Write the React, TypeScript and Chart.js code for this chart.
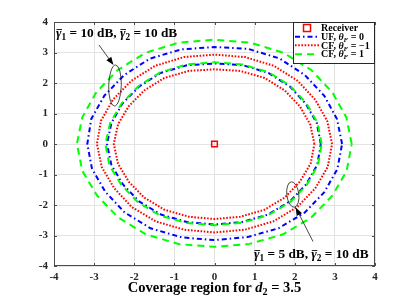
import React, { useEffect, useRef } from "react";
import { Chart, registerables } from "chart.js";

Chart.register(...registerables);

// ---- data ----
const ANGLES_DEG = [0, 15, 30, 45, 60, 75, 90, 105, 120, 135, 150, 165, 180, 195, 210, 225, 240, 255, 270, 285, 300, 315, 330, 345];
// boundary radius at each angle (gamma1 = 10 dB, gamma2 = 10 dB)
const GREEN_OUTER_R = [3.42, 3.40, 3.39, 3.42, 3.45, 3.44, 3.42, 3.44, 3.45, 3.42, 3.40, 3.41, 3.43, 3.41, 3.38, 3.40, 3.42, 3.40, 3.37, 3.39, 3.42, 3.41, 3.39, 3.41];
const BLUE_OUTER_R = [3.18, 3.16, 3.16, 3.19, 3.24, 3.23, 3.18, 3.21, 3.23, 3.19, 3.17, 3.18, 3.17, 3.16, 3.14, 3.17, 3.19, 3.17, 3.15, 3.16, 3.19, 3.18, 3.16, 3.17];
const RED_OUTER_R = [2.93, 2.91, 2.90, 2.93, 2.96, 2.95, 2.93, 2.95, 2.96, 2.93, 2.92, 2.93, 2.93, 2.91, 2.89, 2.92, 2.93, 2.91, 2.90, 2.91, 2.93, 2.92, 2.90, 2.92];
// boundary radius at each angle (gamma1 = 5 dB, gamma2 = 10 dB)
const GREEN_INNER_R = [2.67, 2.66, 2.65, 2.68, 2.71, 2.70, 2.68, 2.70, 2.71, 2.68, 2.67, 2.69, 2.72, 2.71, 2.68, 2.70, 2.71, 2.68, 2.66, 2.67, 2.69, 2.68, 2.66, 2.67];
const BLUE_INNER_R = [2.65, 2.64, 2.63, 2.66, 2.69, 2.68, 2.64, 2.67, 2.69, 2.66, 2.65, 2.66, 2.68, 2.66, 2.64, 2.66, 2.67, 2.65, 2.64, 2.65, 2.67, 2.66, 2.64, 2.65];
const RED_INNER_R = [2.49, 2.47, 2.46, 2.48, 2.50, 2.48, 2.45, 2.48, 2.50, 2.48, 2.47, 2.49, 2.51, 2.49, 2.47, 2.48, 2.49, 2.47, 2.46, 2.47, 2.49, 2.48, 2.46, 2.48];
const RECEIVER = [{ x: 0, y: 0 }];
const AXIS_TICKS = [-4, -3, -2, -1, 0, 1, 2, 3, 4];

const FONT = '"Liberation Serif", "DejaVu Serif", serif';
const BLUE = "#0000ff";
const RED = "#ff0000";
const GREEN = "#00ff00";
const DASH_BLUE = [5, 3, 1.5, 3];
const DASH_RED = [1.6, 1.6];
const DASH_GREEN = [7, 5];

function polar(radii: number[]) {
  const pts = radii.map((r, i) => {
    const a = (ANGLES_DEG[i] * Math.PI) / 180;
    return { x: r * Math.cos(a), y: r * Math.sin(a) };
  });
  pts.push({ ...pts[0] });
  return pts;
}

type Seg = { t: string; it?: boolean; sub?: boolean; bar?: boolean };

function drawRich(ctx: CanvasRenderingContext2D, segs: Seg[], x: number, y: number, size: number, align: "left" | "center") {
  const fontFor = (s: Seg) => `${s.it ? "italic " : ""}bold ${s.sub ? size * 0.7 : size}px ${FONT}`;
  const widths = segs.map((s) => {
    ctx.font = fontFor(s);
    return ctx.measureText(s.t).width;
  });
  const total = widths.reduce((a, b) => a + b, 0);
  let cx = align === "center" ? x - total / 2 : x;
  ctx.textBaseline = "alphabetic";
  ctx.textAlign = "left";
  const base = y + size * 0.32;
  segs.forEach((s, i) => {
    ctx.font = fontFor(s);
    ctx.fillText(s.t, cx, s.sub ? base + size * 0.2 : base);
    if (s.bar) {
      ctx.save();
      ctx.lineWidth = 0.9;
      ctx.beginPath();
      const by = base - size * 0.58;
      ctx.moveTo(cx + 0.5, by);
      ctx.lineTo(cx + widths[i] + 0.5, by);
      ctx.stroke();
      ctx.restore();
    }
    cx += widths[i];
  });
}

function arrow(ctx: CanvasRenderingContext2D, x0: number, y0: number, x1: number, y1: number) {
  const ang = Math.atan2(y1 - y0, x1 - x0);
  const hl = 8;
  const hw = 3;
  ctx.beginPath();
  ctx.moveTo(x0, y0);
  ctx.lineTo(x1 - hl * Math.cos(ang) * 0.8, y1 - hl * Math.sin(ang) * 0.8);
  ctx.stroke();
  ctx.beginPath();
  ctx.moveTo(x1, y1);
  ctx.lineTo(x1 - hl * Math.cos(ang) + hw * Math.sin(ang), y1 - hl * Math.sin(ang) - hw * Math.cos(ang));
  ctx.lineTo(x1 - hl * Math.cos(ang) - hw * Math.sin(ang), y1 - hl * Math.sin(ang) + hw * Math.cos(ang));
  ctx.closePath();
  ctx.fill();
}

const overlay = {
  id: "overlay",
  afterDraw(chart: any) {
    const ctx: CanvasRenderingContext2D = chart.ctx;
    const { left, right, top, bottom } = chart.chartArea;
    const xs = chart.scales.x;
    const ys = chart.scales.y;
    ctx.save();
    // box + inner ticks
    ctx.strokeStyle = "#4d4d4d";
    ctx.lineWidth = 1;
    ctx.strokeRect(left + 0.5, top + 0.5, right - left - 1, bottom - top - 1);
    ctx.beginPath();
    AXIS_TICKS.forEach((v) => {
      const px = Math.round(xs.getPixelForValue(v)) + 0.5;
      ctx.moveTo(px, bottom);
      ctx.lineTo(px, bottom - 3);
      ctx.moveTo(px, top);
      ctx.lineTo(px, top + 3);
      const py = Math.round(ys.getPixelForValue(v)) + 0.5;
      ctx.moveTo(left, py);
      ctx.lineTo(left + 3, py);
      ctx.moveTo(right, py);
      ctx.lineTo(right - 3, py);
    });
    ctx.stroke();

    // legend
    const lx0 = 293, ly0 = 22, lx1 = 375, ly1 = 64;
    ctx.fillStyle = "#ffffff";
    ctx.fillRect(lx0, ly0, lx1 - lx0, ly1 - ly0);
    ctx.strokeStyle = "#262626";
    ctx.lineWidth = 1;
    ctx.strokeRect(lx0 + 0.5, ly0 + 0.5, lx1 - lx0 - 1, ly1 - ly0 - 1);
    const rows = [28, 36.7, 45.3, 54.2];
    // receiver marker
    ctx.strokeStyle = RED;
    ctx.lineWidth = 1.5;
    ctx.strokeRect(303.5, rows[0] - 3.5, 7, 7);
    const lineStyles = [
      { c: BLUE, d: DASH_BLUE },
      { c: RED, d: DASH_RED },
      { c: GREEN, d: DASH_GREEN },
    ];
    lineStyles.forEach((s, i) => {
      ctx.strokeStyle = s.c;
      ctx.lineWidth = 2;
      ctx.setLineDash(s.d);
      ctx.beginPath();
      ctx.moveTo(295, rows[i + 1]);
      ctx.lineTo(319, rows[i + 1]);
      ctx.stroke();
    });
    ctx.setLineDash([]);
    ctx.fillStyle = "#000000";
    const ls = 10;
    drawRich(ctx, [{ t: "Receiver" }], 321, rows[0], ls, "left");
    drawRich(ctx, [{ t: "UF, " }, { t: "θ", it: true }, { t: "F", it: true, sub: true }, { t: " = 0" }], 321, rows[1], ls, "left");
    drawRich(ctx, [{ t: "CF, " }, { t: "θ", it: true }, { t: "F", it: true, sub: true }, { t: " = −1" }], 321, rows[2], ls, "left");
    drawRich(ctx, [{ t: "CF, " }, { t: "θ", it: true }, { t: "F", it: true, sub: true }, { t: " = 1" }], 321, rows[3], ls, "left");

    // annotations
    ctx.strokeStyle = "#000000";
    ctx.fillStyle = "#000000";
    const as = 13.3;
    drawRich(ctx, [{ t: "γ", it: true, bar: true }, { t: "1", sub: true }, { t: " = 10 dB, " }, { t: "γ", it: true, bar: true }, { t: "2", sub: true }, { t: " = 10 dB" }], 56, 33, as, "left");
    drawRich(ctx, [{ t: "γ", it: true, bar: true }, { t: "1", sub: true }, { t: " = 5 dB, " }, { t: "γ", it: true, bar: true }, { t: "2", sub: true }, { t: " = 10 dB" }], 254, 254, as, "left");

    ctx.lineWidth = 0.8;
    ctx.strokeStyle = "#1a1a1a";
    ctx.beginPath();
    ctx.ellipse(115, 85.5, 6.3, 20.5, 0.03, 0, Math.PI * 2);
    ctx.stroke();
    ctx.beginPath();
    ctx.ellipse(292.8, 194.5, 6, 12.8, -0.12, 0, Math.PI * 2);
    ctx.stroke();
    ctx.lineWidth = 0.8;
    arrow(ctx, 99, 45, 113.5, 65);
    arrow(ctx, 313, 241.5, 295.7, 207.5);

    // x-axis title
    ctx.fillStyle = "#000000";
    drawRich(ctx, [{ t: "Coverage region for " }, { t: "d", it: true }, { t: "2", sub: true }, { t: " = 3.5" }], (left + right) / 2, 287, 14.5, "center");
    ctx.restore();
  },
};

export default function App() {
  const ref = useRef<HTMLCanvasElement | null>(null);
  useEffect(() => {
    if (!ref.current) return;
    const lineDs = (label: string, radii: number[], color: string, dash: number[]) => ({
      label,
      data: polar(radii),
      showLine: true,
      borderColor: color,
      backgroundColor: color,
      borderWidth: 2,
      borderDash: dash,
      pointRadius: 0,
      fill: false,
      tension: 0,
    });
    const chart = new Chart(ref.current, {
      type: "scatter",
      data: {
        datasets: [
          {
            label: "Receiver",
            data: RECEIVER,
            pointStyle: "rect",
            pointRadius: 4,
            borderColor: RED,
            backgroundColor: "rgba(255,255,255,0)",
            borderWidth: 1.5,
          } as any,
          lineDs("CF, θF = 1 (10 dB)", GREEN_OUTER_R, GREEN, DASH_GREEN),
          lineDs("CF, θF = 1 (5 dB)", GREEN_INNER_R, GREEN, DASH_GREEN),
          lineDs("CF, θF = −1 (10 dB)", RED_OUTER_R, RED, DASH_RED),
          lineDs("CF, θF = −1 (5 dB)", RED_INNER_R, RED, DASH_RED),
          lineDs("UF, θF = 0 (10 dB)", BLUE_OUTER_R, BLUE, DASH_BLUE),
          lineDs("UF, θF = 0 (5 dB)", BLUE_INNER_R, BLUE, DASH_BLUE),
        ],
      },
      options: {
        responsive: false,
        animation: false,
        devicePixelRatio: 1,
        layout: { padding: { left: 0, top: 22, right: 40, bottom: 0 } },
        plugins: { legend: { display: false }, tooltip: { enabled: false } },
        scales: {
          x: {
            type: "linear",
            min: -4,
            max: 4,
            afterBuildTicks: (s: any) => {
              s.ticks = AXIS_TICKS.map((v) => ({ value: v }));
            },
            afterFit: (s: any) => {
              s.height = 33;
            },
            ticks: {
              color: "#262626",
              font: { family: FONT, size: 11, weight: "bold" },
              padding: 5,
              maxRotation: 0,
              callback: (v: any) => String(v),
            },
            grid: { color: "#e3e3e3", drawTicks: false },
            border: { display: false },
          },
          y: {
            type: "linear",
            min: -4,
            max: 4,
            afterBuildTicks: (s: any) => {
              s.ticks = AXIS_TICKS.map((v) => ({ value: v }));
            },
            afterFit: (s: any) => {
              s.width = 54;
            },
            ticks: {
              color: "#262626",
              font: { family: FONT, size: 11, weight: "bold" },
              padding: 6,
              callback: (v: any) => String(v),
            },
            grid: { color: "#e3e3e3", drawTicks: false },
            border: { display: false },
          },
        },
      } as any,
      plugins: [overlay],
    });
    return () => chart.destroy();
  }, []);
  return (
    <div style={{ position: "absolute", left: 0, top: 0, width: 415, height: 299, background: "#fff" }}>
      <canvas ref={ref} width={415} height={299} style={{ display: "block" }} />
    </div>
  );
}
